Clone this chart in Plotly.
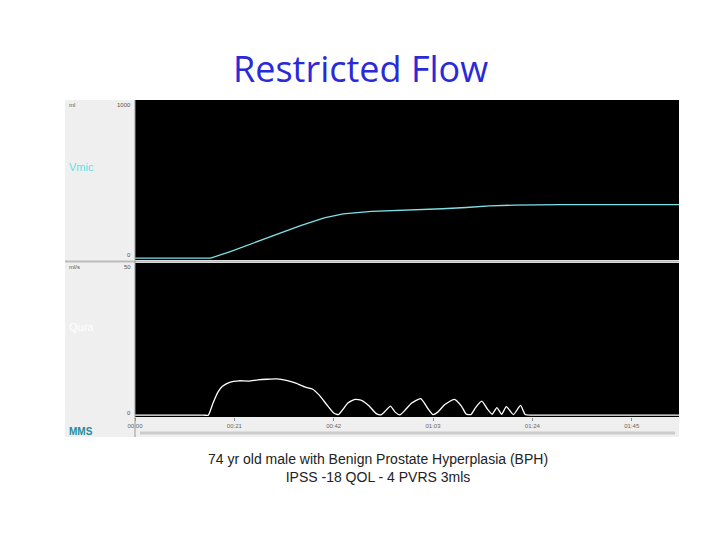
import plotly.graph_objects as go

# Vmic: voided volume (ml) over time (s)
vol_t = [0, 16, 20, 25, 30, 35, 40, 44, 50, 55, 60, 65, 70, 75, 80, 85, 90, 100, 115]
vol_ml = [0, 0, 40, 95, 150, 205, 255, 280, 295, 300, 305, 312, 320, 330, 335, 337, 338, 338, 338]

# Qura: flow rate (ml/s) over time (s)
flow_t = [0, 5, 10, 14.5, 15.5, 16.5, 17.5, 18.5, 20, 22, 24, 26, 28, 30, 32, 34, 36, 37.5, 39, 40.5, 42,
          43, 44, 45, 46.5, 48, 49.5, 51, 52, 53, 54, 55, 56, 57, 58.5, 60.4, 62, 63, 64, 65.5,
          67.5, 69, 70, 71, 72, 73.3, 74.5, 75.5, 76.5, 77.5, 78.5, 80, 81.5, 82.5, 84, 90, 100, 110, 115]
flow_ml_s = [0, 0, 0, 0, 0, 4, 7.5, 9.5, 10.8, 11.3, 11.2, 11.6, 11.8, 11.9, 11.4, 10.5, 9.2, 8.6, 6.5, 3.5, 0.7,
             0.2, 2.0, 4.0, 5.2, 4.8, 3.0, 0.5, 0.1, 1.5, 3.0, 1.0, 0.1, 1.5, 4.0, 5.4, 2.0, 0.2, 1.0, 3.5,
             5.2, 3.0, 0.4, 0.2, 2.5, 4.6, 2.0, 0.3, 2.5, 0.3, 2.8, 0.2, 3.2, 0.2, 0, 0, 0, 0, 0]

tick_vals = [0, 21, 42, 63, 84, 105]
tick_text = ['00:00', '00:21', '00:42', '01:03', '01:24', '01:45']

W, H = 720, 540
OFF = 8  # page body margin


def px(x):
    return (x - OFF) / W


def py(y):
    return 1 - (y - OFF) / H


fig = go.Figure()
fig.add_trace(go.Scatter(x=vol_t, y=vol_ml, mode='lines', line=dict(color='#7fe0e8', width=1.3),
                         xaxis='x', yaxis='y', showlegend=False))
fig.add_trace(go.Scatter(x=flow_t, y=flow_ml_s, mode='lines', line=dict(color='white', width=1.3,
                         shape='spline', smoothing=0.5), xaxis='x2', yaxis='y2', showlegend=False))

ax = dict(range=[0, 115], showgrid=False, zeroline=False, showline=False, automargin=False)
fig.update_layout(
    width=W, height=H, margin=dict(l=0, r=0, t=0, b=0, autoexpand=False),
    paper_bgcolor='white', plot_bgcolor='black',
    xaxis=dict(ax, domain=[px(135), px(679)], anchor='y', showticklabels=False),
    yaxis=dict(domain=[py(260), py(100)], range=[-12, 1000], showgrid=False, zeroline=False,
               showticklabels=False),
    xaxis2=dict(ax, domain=[px(135), px(679)], anchor='y2', tickvals=tick_vals, ticktext=tick_text,
                ticks='outside', ticklen=3, tickcolor='#888', tickfont=dict(size=6, color='#666')),
    yaxis2=dict(domain=[py(417), py(263)], range=[-0.6, 50], showgrid=False, zeroline=False,
                showticklabels=False),
    font=dict(family='Liberation Sans'),
)

shapes = [
    # left grey label panel
    dict(type='rect', xref='paper', yref='paper', x0=px(65), x1=px(135), y0=py(437), y1=py(100),
         fillcolor='#efefef', line=dict(width=0), layer='below'),
    # bottom bar
    dict(type='rect', xref='paper', yref='paper', x0=px(135), x1=px(679), y0=py(437), y1=py(417),
         fillcolor='#efefef', line=dict(width=0), layer='below'),
    # separators
    dict(type='line', xref='paper', yref='paper', x0=px(65), x1=px(679), y0=py(261.5), y1=py(261.5),
         line=dict(color='#bbbbbb', width=2)),
    dict(type='line', xref='paper', yref='paper', x0=px(135), x1=px(135), y0=py(437), y1=py(100),
         line=dict(color='#999999', width=1)),
    # scrollbar
    dict(type='line', xref='paper', yref='paper', x0=px(140), x1=px(675), y0=py(433), y1=py(433),
         line=dict(color='#cccccc', width=3)),
]
fig.update_layout(shapes=shapes)

small = dict(size=6, color='#555')
ann = [
    dict(text='Restricted Flow', x=px(360), y=py(68), font=dict(size=36, color='#2a2ad8',
         family='Open Sans'), xanchor='center'),
    dict(text='74 yr old male with Benign Prostate Hyperplasia (BPH)<br>IPSS -18 QOL - 4 PVRS 3mls',
         x=px(378), y=py(468), font=dict(size=14, color='#222'), xanchor='center'),
    dict(text='Vmic', x=px(67), y=py(167), xanchor='left', font=dict(size=11, color='#5fe0e8')),
    dict(text='Qura', x=px(67), y=py(327), xanchor='left', font=dict(size=11, color='white')),
    dict(text='<b>MMS</b>', x=px(67), y=py(431), xanchor='left', font=dict(size=10, color='#2a8a9a')),
    dict(text='ml', x=px(67), y=py(105), xanchor='left', font=small),
    dict(text='1000', x=px(133), y=py(105), xanchor='right', font=small),
    dict(text='0', x=px(133), y=py(255), xanchor='right', font=small),
    dict(text='ml/s', x=px(67), y=py(267), xanchor='left', font=small),
    dict(text='50', x=px(133), y=py(267), xanchor='right', font=small),
    dict(text='0', x=px(133), y=py(413), xanchor='right', font=small),
]
for a in ann:
    a.update(xref='paper', yref='paper', showarrow=False, yanchor='middle')
fig.update_layout(annotations=ann)

fig.write_html('out.html')
